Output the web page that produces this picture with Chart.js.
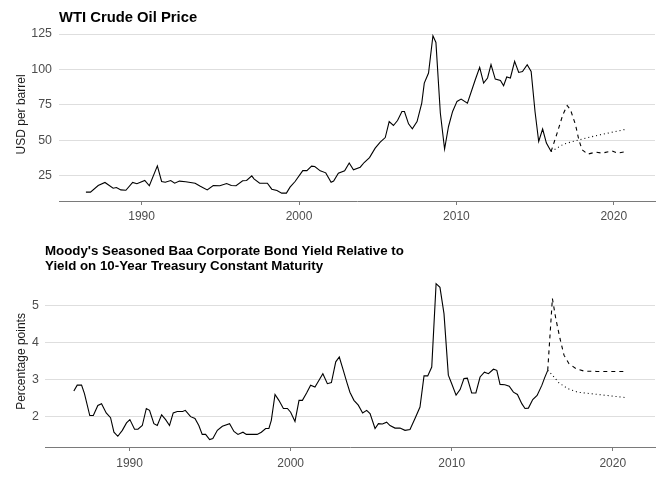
<!DOCTYPE html>
<html>
<head>
<meta charset="utf-8">
<script src="https://cdn.jsdelivr.net/npm/chart.js@4.4.1/dist/chart.umd.min.js"></script>
<style>
  body { margin: 0; background: #fff; }
  canvas { display: block; }
</style>
</head>
<body>
<canvas id="oil-chart" width="672" height="230"></canvas>
<canvas id="spread-chart" width="672" height="250"></canvas>
<script>
// x axis
var yearTicks = [1990, 2000, 2010, 2020];

// WTI crude oil price, USD per barrel
var oilYears = [1986.46, 1986.75, 1987.24, 1987.67, 1988.19, 1988.4, 1988.68, 1989.0, 1989.43, 1989.7,
  1990.2, 1990.49, 1991.0, 1991.27, 1991.5, 1991.85, 1992.1, 1992.4, 1992.8, 1993.4,
  1993.7, 1994.17, 1994.55, 1994.97, 1995.4, 1995.7, 1996.0, 1996.42, 1996.67, 1997.0,
  1997.14, 1997.5, 1997.99, 1998.27, 1998.6, 1998.9, 1999.2, 1999.43, 1999.75, 2000.24,
  2000.5, 2000.8, 2001.0, 2001.35, 2001.7, 2002.04, 2002.2, 2002.5, 2002.9, 2003.19,
  2003.46, 2003.89, 2004.14, 2004.48, 2004.84, 2005.16, 2005.48, 2005.73, 2006.0, 2006.26,
  2006.54, 2006.7, 2006.96, 2007.2, 2007.5, 2007.8, 2007.96, 2008.23, 2008.51, 2008.7,
  2008.98, 2009.25, 2009.5, 2009.76, 2010.04, 2010.3, 2010.7, 2011.2, 2011.48, 2011.73,
  2011.98, 2012.2, 2012.47, 2012.8, 2013.0, 2013.2, 2013.43, 2013.7, 2013.96, 2014.2,
  2014.5, 2014.75, 2015.0, 2015.23, 2015.48, 2015.72, 2016.02];
var oilValues = [13.5, 13.5, 18.2, 20.3, 16.3, 16.8, 15.1, 14.8, 20.3, 19.4,
  21.7, 18.0, 32.0, 21.0, 20.5, 21.7, 19.8, 21.3, 20.8, 19.8,
  17.8, 15.1, 18.2, 18.0, 19.6, 18.2, 18.0, 21.5, 21.7, 25.0,
  22.9, 19.8, 19.8, 15.6, 14.6, 12.8, 12.8, 17.0, 21.0, 28.7,
  28.7, 31.8, 31.6, 28.5, 27.1, 20.5, 21.3, 26.9, 28.5, 34.0,
  29.2, 31.1, 34.4, 37.9, 44.5, 48.8, 52.0, 63.3, 60.5, 64.0,
  70.4, 70.4, 61.7, 58.2, 63.3, 76.3, 90.4, 97.5, 123.8, 119.1,
  69.3, 43.9, 59.8, 70.4, 77.5, 79.1, 76.3, 92.8, 101.5, 90.4,
  94.0, 103.4, 93.2, 92.3, 88.5, 94.7, 94.0, 105.7, 97.9, 98.5,
  103.4, 98.6, 70.0, 49.2, 58.0, 48.1, 42.2];
var oilDashYears = [2016.02, 2016.4, 2016.76, 2017.04, 2017.25, 2017.57, 2017.78, 2017.99, 2018.35, 2018.84,
  2019.26, 2019.9, 2020.25, 2020.85];
var oilDashValues = [42.2, 55.1, 68.0, 74.6, 71.6, 61.0, 50.4, 43.4, 40.3, 41.7,
  41.0, 42.6, 41.0, 42.2];
var oilDotYears = [2016.02, 2016.82, 2017.78, 2018.94, 2020.85];
var oilDotValues = [42.2, 47.4, 50.4, 53.5, 58.0];
var oilTicks = [25, 50, 75, 100, 125];

// Baa corporate bond yield minus 10-year treasury, percentage points
var spreadYears = [1986.54, 1986.75, 1987.02, 1987.2, 1987.53, 1987.75, 1988.03, 1988.26, 1988.55, 1988.82,
  1989.03, 1989.27, 1989.55, 1989.81, 1990.02, 1990.31, 1990.52, 1990.79, 1991.04, 1991.24,
  1991.51, 1991.72, 1991.99, 1992.24, 1992.48, 1992.71, 1992.96, 1993.3, 1993.46, 1993.79,
  1994.06, 1994.3, 1994.51, 1994.72, 1994.97, 1995.17, 1995.45, 1995.76, 1996.21, 1996.48,
  1996.73, 1997.04, 1997.25, 1997.92, 1998.18, 1998.45, 1998.65, 1998.8, 1999.03, 1999.27,
  1999.55, 1999.8, 2000.0, 2000.27, 2000.52, 2000.73, 2000.99, 2001.24, 2001.51, 2001.76,
  2002.0, 2002.28, 2002.53, 2002.8, 2003.02, 2003.27, 2003.48, 2003.68, 2003.93, 2004.2,
  2004.47, 2004.72, 2004.93, 2005.24, 2005.45, 2005.7, 2005.96, 2006.17, 2006.48, 2006.79,
  2007.1, 2007.41, 2007.72, 2008.03, 2008.28, 2008.51, 2008.76, 2009.03, 2009.27, 2009.52,
  2009.79, 2010.0, 2010.27, 2010.52, 2010.76, 2010.97, 2011.24, 2011.5, 2011.76, 2012.03,
  2012.28, 2012.59, 2012.8, 2013.0, 2013.3, 2013.57, 2013.83, 2014.08, 2014.35, 2014.55,
  2014.76, 2015.03, 2015.3, 2015.6, 2015.76, 2015.96];
var spreadValues = [2.69, 2.85, 2.85, 2.62, 2.03, 2.03, 2.30, 2.35, 2.10, 1.97,
  1.58, 1.47, 1.63, 1.83, 1.92, 1.66, 1.66, 1.76, 2.22, 2.17,
  1.81, 1.76, 2.05, 1.92, 1.76, 2.10, 2.14, 2.14, 2.17, 2.00,
  1.95, 1.76, 1.52, 1.52, 1.38, 1.41, 1.63, 1.74, 1.81, 1.60,
  1.52, 1.58, 1.52, 1.52, 1.58, 1.68, 1.68, 1.90, 2.60, 2.44,
  2.22, 2.22, 2.12, 1.87, 2.44, 2.44, 2.64, 2.85, 2.80, 2.98,
  3.16, 2.89, 2.92, 3.48, 3.61, 3.25, 2.94, 2.66, 2.44, 2.31,
  2.10, 2.17, 2.08, 1.68, 1.81, 1.80, 1.85, 1.76, 1.69, 1.69,
  1.63, 1.65, 1.95, 2.26, 3.10, 3.10, 3.34, 5.59, 5.49, 4.78,
  3.12, 2.89, 2.58, 2.73, 3.03, 3.04, 2.64, 2.64, 3.07, 3.20,
  3.16, 3.28, 3.25, 2.87, 2.86, 2.82, 2.66, 2.60, 2.35, 2.22,
  2.23, 2.46, 2.57, 2.85, 3.04, 3.25];
var spreadDashYears = [2015.96, 2016.25, 2016.46, 2016.72, 2016.97, 2017.28, 2017.7, 2018.21, 2019.0, 2020.0, 2020.9];
var spreadDashValues = [3.25, 5.19, 4.65, 4.11, 3.66, 3.43, 3.30, 3.23, 3.22, 3.22, 3.22];
var spreadDotYears = [2015.96, 2016.25, 2016.66, 2017.19, 2017.81, 2019.05, 2020.9];
var spreadDotValues = [3.25, 3.12, 2.91, 2.76, 2.66, 2.60, 2.51];
var spreadTicks = [2, 3, 4, 5];

Chart.defaults.font.family = '"Liberation Sans", Arial, sans-serif';
Chart.defaults.font.size = 12;
Chart.defaults.color = "#4d4d4d";

function points(xs, ys) {
  return xs.map(function (x, i) { return { x: x, y: ys[i] }; });
}

function lineSet(xs, ys, dash) {
  return {
    data: points(xs, ys),
    borderColor: "#000000",
    borderWidth: 1.1,
    borderDash: dash,
    pointRadius: 0,
    tension: 0,
    fill: false,
  };
}

function makeChart(id, cfg) {
  var ctx = document.getElementById(id).getContext("2d");
  return new Chart(ctx, {
    type: "line",
    data: { datasets: cfg.datasets },
    options: {
      responsive: false,
      animation: false,
      events: [],
      layout: { padding: { left: 0, right: 17, top: 0, bottom: 0 } },
      plugins: {
        legend: { display: false },
        tooltip: { enabled: false },
        title: {
          display: true,
          text: cfg.title,
          align: "start",
          fullSize: false,
          color: "#000000",
          font: { size: cfg.titleSize, weight: "bold", lineHeight: cfg.titleLine },
          padding: cfg.titlePadding,
        },
      },
      scales: {
        x: {
          type: "linear",
          min: 1984.75,
          max: 2022.62,
          afterBuildTicks: function (s) {
            s.ticks = yearTicks.map(function (v) { return { value: v }; });
          },
          afterFit: function (s) { s.height = cfg.xHeight; },
          ticks: {
            padding: cfg.xPad,
            maxRotation: 0,
            callback: function (v) { return String(v); },
          },
          grid: { drawOnChartArea: false, drawTicks: true, tickLength: 4, color: "#7a7a7a" },
          border: { display: true, color: "#7a7a7a", width: 1 },
        },
        y: {
          min: cfg.yMin,
          max: cfg.yMax,
          afterBuildTicks: function (s) {
            s.ticks = cfg.yTicks.map(function (v) { return { value: v }; });
          },
          afterFit: function (s) { s.width = cfg.yWidth; },
          ticks: { padding: cfg.yPad, font: { size: 12.4 } },
          grid: { color: "#dedede", drawTicks: false },
          border: { display: false },
          title: {
            display: true,
            text: cfg.yTitle,
            color: "#1a1a1a",
            font: { size: 12 },
            padding: { top: 14, bottom: 0 },
          },
        },
      },
    },
  });
}

// WTI panel
makeChart("oil-chart", {
  title: "WTI Crude Oil Price",
  titleSize: 14.8,
  titleLine: 1.17,
  titlePadding: { top: 8.9, bottom: 1.6 },
  yTitle: "USD per barrel",
  yMin: 7.25,
  yMax: 129.4,
  yTicks: oilTicks,
  yWidth: 59,
  yPad: 7,
  xHeight: 29,
  xPad: 4,
  datasets: [
    lineSet(oilYears, oilValues, []),
    lineSet(oilDashYears, oilDashValues, [4, 4]),
    lineSet(oilDotYears, oilDotValues, [1, 3]),
  ],
});

// Baa spread panel
makeChart("spread-chart", {
  title: ["Moody's Seasoned Baa Corporate Bond Yield Relative to", "Yield on 10-Year Treasury Constant Maturity"],
  titleSize: 13.3,
  titleLine: 1.143,
  titlePadding: { top: 14, bottom: 1.5 },
  yTitle: "Percentage points",
  yMin: 1.18,
  yMax: 5.8,
  yTicks: spreadTicks,
  yWidth: 45,
  yPad: 6,
  xHeight: 33,
  xPad: 5,
  datasets: [
    lineSet(spreadYears, spreadValues, []),
    lineSet(spreadDashYears, spreadDashValues, [4, 4]),
    lineSet(spreadDotYears, spreadDotValues, [1, 3]),
  ],
});
</script>
</body>
</html>
